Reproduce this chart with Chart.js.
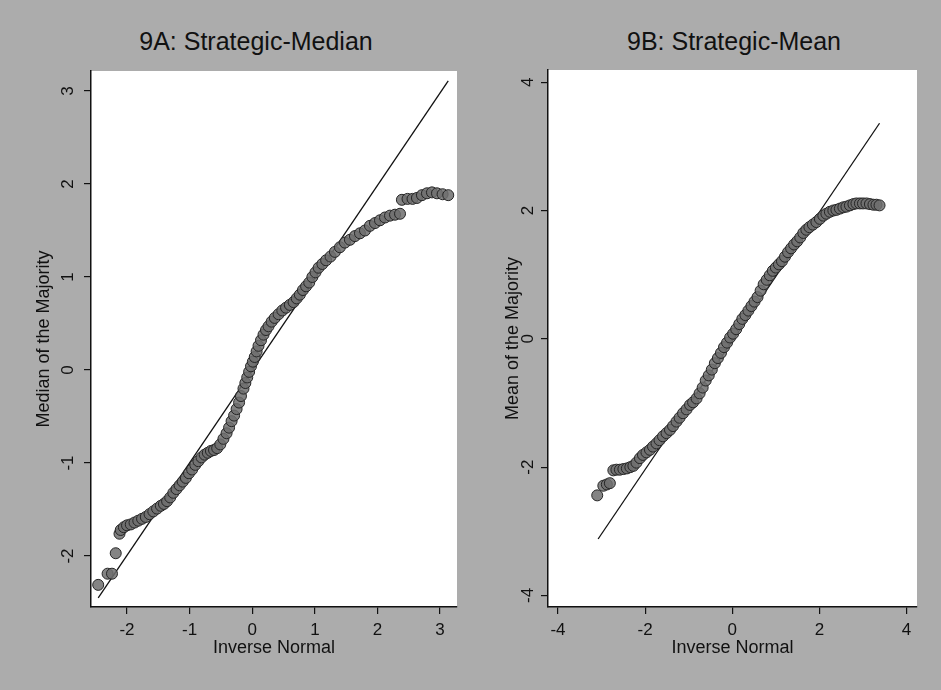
<!DOCTYPE html>
<html>
<head>
<meta charset="utf-8">
<script src="https://cdn.jsdelivr.net/npm/chart.js@4.4.1/dist/chart.umd.min.js"></script>
<style>
  body { margin: 0; width: 941px; height: 690px; background: #acacac; position: relative; overflow: hidden; font-family: "Liberation Sans", Arial, sans-serif; }
  canvas { position: absolute; top: 0; }
  .ttl { position: absolute; top: 26px; height: 30px; line-height: 30px; font-size: 25px; color: #111; white-space: nowrap; transform: translateX(-50%); }
</style>
</head>
<body>
<div class="ttl" style="left:256px">9A: Strategic-Median</div>
<div class="ttl" style="left:734px">9B: Strategic-Mean</div>
<canvas id="chartA" width="470" height="690" style="left:0"></canvas>
<canvas id="chartB" width="471" height="690" style="left:470px"></canvas>
<script>
// ticks
const xTicksA = [-2, -1, 0, 1, 2, 3];
const yTicksA = [-2, -1, 0, 1, 2, 3];
const xTicksB = [-4, -2, 0, 2, 4];
const yTicksB = [-4, -2, 0, 2, 4];

// 9A: inverse normal quantile vs median of the majority
const medianQ = [-2.46, -2.31, -2.24, -2.18, -2.12, -2.10, -2.05, -2.00, -1.94, -1.88, -1.82, -1.76, -1.70, -1.64,
  -1.58, -1.52, -1.46, -1.41, -1.36, -1.31, -1.26, -1.21, -1.16, -1.11, -1.06, -1.01, -0.96, -0.91, -0.86, -0.81,
  -0.76, -0.71, -0.66, -0.61, -0.56, -0.51, -0.46, -0.41, -0.37, -0.33, -0.29, -0.25, -0.21, -0.18, -0.14, -0.11,
  -0.08, -0.05, -0.02, 0.01, 0.04, 0.07, 0.10, 0.14, 0.18, 0.22, 0.26, 0.31, 0.36, 0.42, 0.48, 0.54, 0.60, 0.66,
  0.71, 0.76, 0.81, 0.86, 0.91, 0.96, 1.01, 1.06, 1.12, 1.18, 1.25, 1.32, 1.40, 1.48, 1.56, 1.64, 1.72, 1.80,
  1.88, 1.96, 2.04, 2.12, 2.20, 2.28, 2.36, 2.39, 2.48, 2.56, 2.63, 2.71, 2.79, 2.87, 2.95, 3.04, 3.13];
const medianVal = [-2.31, -2.19, -2.19, -1.97, -1.76, -1.72, -1.69, -1.67, -1.66, -1.64, -1.62, -1.60, -1.58, -1.55,
  -1.52, -1.49, -1.46, -1.44, -1.41, -1.37, -1.32, -1.28, -1.24, -1.20, -1.16, -1.11, -1.07, -1.02, -0.98, -0.94,
  -0.91, -0.89, -0.87, -0.86, -0.84, -0.80, -0.74, -0.68, -0.62, -0.55, -0.49, -0.42, -0.35, -0.28, -0.20, -0.14,
  -0.08, -0.02, 0.04, 0.09, 0.14, 0.20, 0.26, 0.32, 0.38, 0.43, 0.47, 0.52, 0.56, 0.60, 0.64, 0.67, 0.70, 0.73,
  0.77, 0.81, 0.86, 0.90, 0.94, 1.00, 1.05, 1.10, 1.14, 1.18, 1.22, 1.27, 1.32, 1.37, 1.40, 1.44, 1.47, 1.50,
  1.55, 1.58, 1.61, 1.64, 1.66, 1.67, 1.68, 1.83, 1.84, 1.84, 1.85, 1.88, 1.90, 1.91, 1.90, 1.89, 1.88];
const medianLineX = [-2.46, 3.13];
const medianLineY = [-2.45, 3.11];

// 9B: inverse normal quantile vs mean of the majority
const meanQ = [-3.10, -2.96, -2.88, -2.81, -2.73, -2.66, -2.58, -2.50, -2.42, -2.34, -2.27, -2.20, -2.12, -2.05,
  -1.97, -1.89, -1.82, -1.74, -1.67, -1.59, -1.51, -1.43, -1.36, -1.28, -1.21, -1.13, -1.05, -0.97, -0.90, -0.82,
  -0.75, -0.68, -0.61, -0.54, -0.47, -0.40, -0.33, -0.26, -0.19, -0.12, -0.05, 0.02, 0.09, 0.16, 0.23, 0.30,
  0.37, 0.44, 0.51, 0.58, 0.65, 0.72, 0.79, 0.86, 0.93, 1.00, 1.07, 1.14, 1.21, 1.28, 1.35, 1.42, 1.49, 1.56,
  1.63, 1.70, 1.77, 1.85, 1.93, 2.01, 2.09, 2.16, 2.24, 2.32, 2.39, 2.47, 2.55, 2.62, 2.70, 2.78, 2.85, 2.93,
  3.00, 3.08, 3.16, 3.24, 3.31, 3.38];
const meanVal = [-2.44, -2.29, -2.27, -2.25, -2.05, -2.04, -2.04, -2.03, -2.02, -2.00, -1.98, -1.93, -1.86, -1.81,
  -1.77, -1.73, -1.68, -1.63, -1.58, -1.52, -1.47, -1.42, -1.36, -1.29, -1.23, -1.16, -1.10, -1.03, -0.99, -0.93,
  -0.85, -0.76, -0.65, -0.57, -0.48, -0.38, -0.30, -0.22, -0.13, -0.06, 0.02, 0.08, 0.15, 0.23, 0.31, 0.37,
  0.44, 0.51, 0.58, 0.65, 0.75, 0.85, 0.92, 0.99, 1.06, 1.11, 1.16, 1.21, 1.28, 1.35, 1.41, 1.47, 1.52, 1.58,
  1.65, 1.70, 1.74, 1.78, 1.82, 1.87, 1.92, 1.95, 1.98, 2.00, 2.01, 2.03, 2.05, 2.06, 2.08, 2.10, 2.11, 2.11,
  2.11, 2.11, 2.10, 2.09, 2.09, 2.08];
const meanLineX = [-3.08, 3.38];
const meanLineY = [-3.12, 3.36];

const FONT = "'Liberation Sans', Arial, sans-serif";
const INK = '#111';

// white plot region, only axis lines on left/bottom
const plotBg = {
  id: 'plotBg',
  beforeDraw(chart) {
    const a = chart.chartArea;
    const ctx = chart.ctx;
    ctx.save();
    ctx.fillStyle = '#ffffff';
    ctx.fillRect(a.left, a.top, a.right - a.left, a.bottom - a.top);
    ctx.restore();
  }
};

function makeChart(id, o) {
  const pts = o.qx.map((q, i) => ({ x: q, y: o.qy[i] }));
  const line = o.lx.map((q, i) => ({ x: q, y: o.ly[i] }));
  return new Chart(document.getElementById(id), {
    type: 'scatter',
    data: {
      datasets: [
        {
          data: pts,
          pointRadius: 5.5,
          pointBackgroundColor: 'rgba(110,110,110,0.85)',
          pointBorderColor: '#262626',
          pointBorderWidth: 1
        },
        {
          type: 'line',
          data: line,
          borderColor: INK,
          borderWidth: 1.3,
          pointRadius: 0,
          fill: false
        }
      ]
    },
    options: {
      responsive: false,
      animation: false,
      devicePixelRatio: 1,
      layout: { padding: { left: 0, right: o.padRight, top: o.padTop, bottom: 0 } },
      plugins: { legend: { display: false }, tooltip: { enabled: false } },
      scales: {
        x: {
          type: 'linear',
          min: o.xMin, max: o.xMax,
          afterBuildTicks: s => { s.ticks = o.xTicks.map(v => ({ value: v })); },
          afterFit: s => { s.height = 83; },
          grid: { drawOnChartArea: false, drawTicks: true, tickLength: 7, color: INK, lineWidth: 1.2 },
          border: { display: true, color: INK, width: 1.5 },
          ticks: { color: INK, font: { family: FONT, size: 17 }, padding: 6, maxRotation: 0 },
          title: { display: true, text: 'Inverse Normal', color: INK, font: { family: FONT, size: 18 }, padding: { top: 0, bottom: 31 } }
        },
        y: {
          type: 'linear',
          min: o.yMin, max: o.yMax,
          afterBuildTicks: s => { s.ticks = o.yTicks.map(v => ({ value: v })); },
          afterFit: s => { s.width = o.yWidth; },
          grid: { drawOnChartArea: false, drawTicks: true, tickLength: 7, color: INK, lineWidth: 1.2 },
          border: { display: true, color: INK, width: 1.5 },
          ticks: { color: INK, font: { family: FONT, size: 17 }, padding: o.yPad, minRotation: 90, maxRotation: 90, crossAlign: 'center' },
          title: { display: true, text: o.yTitle, color: INK, font: { family: FONT, size: 18 }, padding: { top: o.yTitlePad, bottom: 0 } }
        }
      }
    },
    plugins: [plotBg]
  });
}

makeChart('chartA', {
  qx: medianQ, qy: medianVal, lx: medianLineX, ly: medianLineY,
  xTicks: xTicksA, yTicks: yTicksA,
  xMin: -2.575, xMax: 3.27, yMin: -2.548, yMax: 3.215,
  yWidth: 91, padRight: 13, padTop: 71, yPad: 8, yTitlePad: 33,
  yTitle: 'Median of the Majority'
});

makeChart('chartB', {
  qx: meanQ, qy: meanVal, lx: meanLineX, ly: meanLineY,
  xTicks: xTicksB, yTicks: yTicksB,
  xMin: -4.23, xMax: 4.24, yMin: -4.18, yMax: 4.19,
  yWidth: 78, padRight: 24, padTop: 70, yPad: 5, yTitlePad: 32,
  yTitle: 'Mean of the Majority'
});
</script>
</body>
</html>
